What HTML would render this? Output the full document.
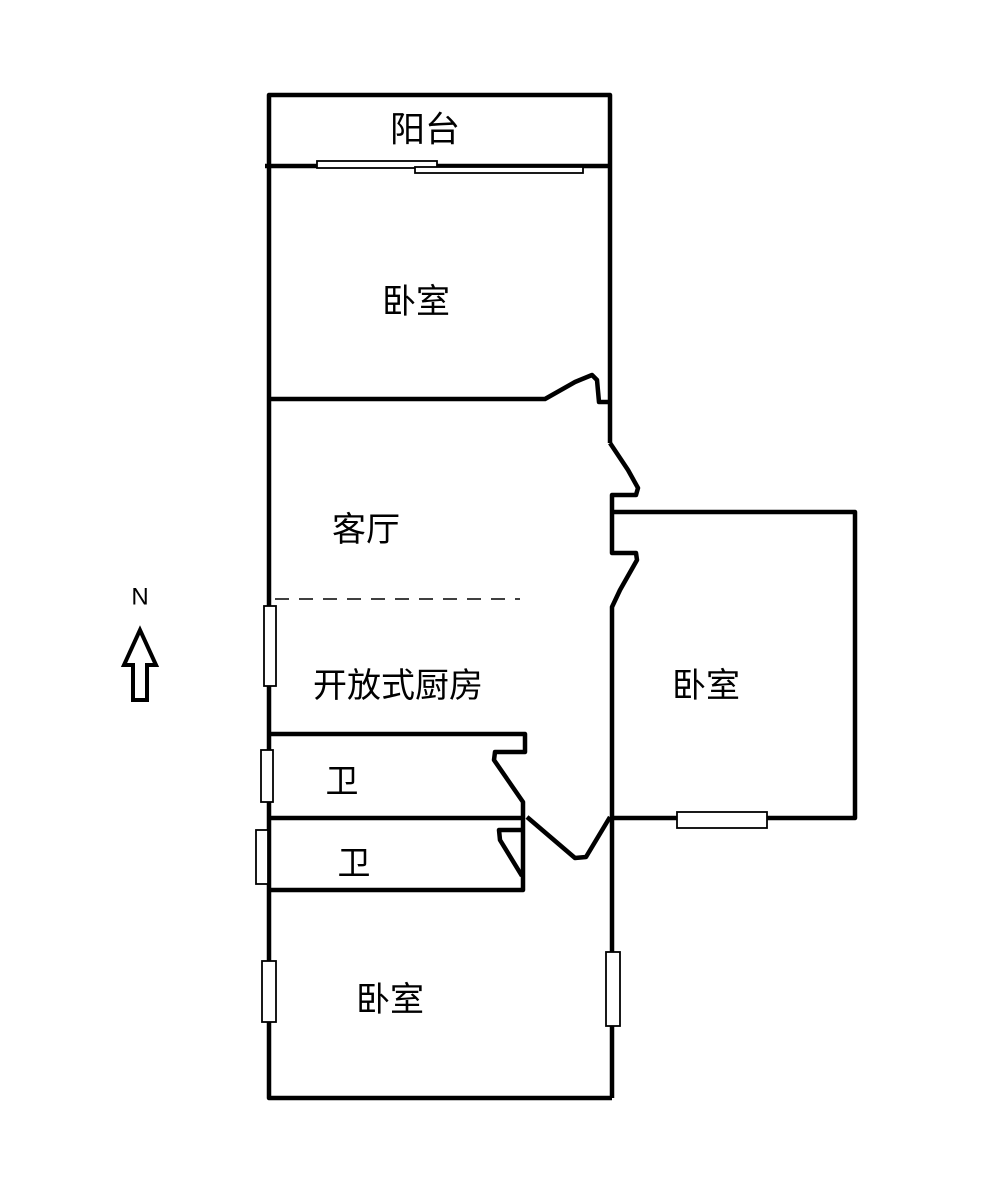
<!DOCTYPE html>
<html><head><meta charset="utf-8"><style>
html,body{margin:0;padding:0;background:#fff}
svg{display:block}
text{font-family:"Liberation Sans","Noto Sans CJK SC",sans-serif;fill:#000;text-anchor:middle;dominant-baseline:central}
</style></head><body>
<svg width="1000" height="1192" viewBox="0 0 1000 1192" xmlns="http://www.w3.org/2000/svg">
<g fill="none" stroke="#000" stroke-width="4.5" stroke-linejoin="round">
<polyline points="610,443 610,95 269,95 269,1098 612,1098"/>
<polyline points="610,443 628,470 638,488 636,495 612,495 612,553 636,553 637,560 620,590 612,607 612,1098"/>
<line x1="265" y1="166" x2="612" y2="166"/>
<polyline points="269,399 545,399 575,382 592,375 597,380 599,402 610,402"/>
<polyline points="612,512 855,512 855,818 612,818"/>
<polyline points="269,734 525,734 525,752 495,752 494,760 523,802 523,890 269,890"/>
<line x1="269" y1="818" x2="525" y2="818"/>
<polyline points="523,830 499,830 500,840 522,876"/>
<polyline points="527,817 575,858 586,857 610,817"/>
</g>
<g fill="#fff" stroke="#000" stroke-width="1.8">
<rect x="317" y="161" width="120" height="7"/>
<rect x="415" y="167" width="168" height="6"/>
<rect x="677" y="812" width="90" height="16"/>
<rect x="606" y="952" width="14" height="74"/>
<rect x="264" y="606" width="12" height="80"/>
<rect x="261" y="750" width="12" height="52"/>
<rect x="256" y="830" width="12" height="54"/>
<rect x="262" y="961" width="14" height="61"/>
<polygon points="140,630 124,665 133,665 133,700 147,700 147,665 156,665" stroke-width="4"/>
</g>
<line x1="275" y1="599" x2="520" y2="599" stroke="#000" stroke-width="1.5" stroke-dasharray="14,10"/>
<text x="425" y="130" font-size="35">阳台</text>
<text x="416" y="302" font-size="34">卧室</text>
<text x="366" y="530" font-size="34">客厅</text>
<text x="398" y="686" font-size="34">开放式厨房</text>
<text x="342" y="781" font-size="33">卫</text>
<text x="354" y="863" font-size="33">卫</text>
<text x="706" y="686" font-size="34">卧室</text>
<text x="390" y="1000" font-size="34">卧室</text>
<text x="140" y="597" font-size="24">N</text>
</svg>
</body></html>
